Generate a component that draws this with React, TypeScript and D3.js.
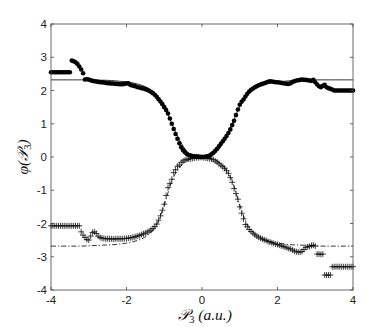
import React from "react";
import * as d3 from "d3";

// sample positions: P3 from -4 to 4 every 0.05 (161 samples)
const sampleCount = 161;
const sampleStart = -4;
const sampleStep = 0.05;

// phase of the measured field (filled dots)
const phiMeasured = [
  2.55, 2.55, 2.55, 2.55, 2.55, 2.55, 2.55, 2.55, 2.55, 2.55, // -4.00 .. -3.55
  2.55, 2.90, 2.88, 2.85, 2.80, 2.72, 2.63, 2.52, 2.33, 2.34, // -3.50 .. -3.05
  2.33, 2.31, 2.29, 2.28, 2.27, 2.26, 2.25, 2.25, 2.24, 2.23, // -3.00 .. -2.55
  2.22, 2.22, 2.21, 2.21, 2.20, 2.20, 2.19, 2.19, 2.19, 2.20, // -2.50 .. -2.05
  2.21, 2.22, 2.17, 2.15, 2.14, 2.12, 2.10, 2.09, 2.07, 2.06, // -2.00 .. -1.55
  2.04, 2.02, 1.99, 1.96, 1.92, 1.87, 1.81, 1.74, 1.67, 1.59, // -1.50 .. -1.05
  1.50, 1.41, 1.31, 1.16, 1.00, 0.84, 0.69, 0.55, 0.41, 0.29, // -1.00 .. -0.55
  0.20, 0.14, 0.09, 0.06, 0.04, 0.03, 0.02, 0.01, 0.01, 0.00, // -0.50 .. -0.05
  0.00, 0.00, 0.01, 0.02, 0.04, 0.08, 0.13, 0.19, 0.25, 0.32, //  0.00 ..  0.45
  0.40, 0.47, 0.55, 0.63, 0.72, 0.83, 0.96, 1.09, 1.26, 1.43, //  0.50 ..  0.95
  1.57, 1.66, 1.73, 1.82, 1.90, 1.97, 2.02, 2.06, 2.10, 2.13, //  1.00 ..  1.45
  2.16, 2.18, 2.20, 2.22, 2.24, 2.26, 2.28, 2.27, 2.26, 2.25, //  1.50 ..  1.95
  2.25, 2.24, 2.23, 2.22, 2.21, 2.20, 2.20, 2.22, 2.26, 2.28, //  2.00 ..  2.45
  2.30, 2.31, 2.32, 2.33, 2.32, 2.32, 2.31, 2.30, 2.29, 2.32, //  2.50 ..  2.95
  2.25, 2.18, 2.13, 2.10, 2.14, 2.17, 2.10, 2.07, 2.05, 2.03, //  3.00 ..  3.45
  2.00, 2.00, 2.00, 2.00, 2.00, 2.00, 2.00, 2.00, 2.00, 2.00, //  3.50 ..  3.95
  2.00, //  4.00
];

// phase of the second field (plus markers)
const phiSecond = [
  -2.07, -2.07, -2.07, -2.07, -2.07, -2.07, -2.07, -2.07, -2.07, -2.07,
  -2.07, -2.07, -2.07, -2.07, -2.07, -2.07, -2.25, -2.35, -2.42, -2.48,
  -2.50, -2.38, -2.27, -2.25, -2.30, -2.38, -2.42, -2.44, -2.45, -2.46,
  -2.46, -2.46, -2.46, -2.47, -2.46, -2.46, -2.46, -2.46, -2.46, -2.45,
  -2.45, -2.44, -2.43, -2.42, -2.41, -2.39, -2.37, -2.36, -2.33, -2.31,
  -2.29, -2.26, -2.23, -2.20, -2.15, -2.09, -2.02, -1.90, -1.77, -1.60,
  -1.42, -1.16, -0.92, -0.80, -0.67, -0.47, -0.38, -0.28, -0.24, -0.16,
  -0.12, -0.09, -0.07, -0.06, -0.05, -0.04, -0.03, -0.02, -0.02, -0.01,
  -0.01, -0.02, -0.03, -0.04, -0.05, -0.06, -0.08, -0.12, -0.15, -0.20,
  -0.25, -0.29, -0.34, -0.41, -0.49, -0.62, -0.76, -0.95, -1.10, -1.27,
  -1.50, -1.69, -1.86, -2.03, -2.10, -2.18, -2.24, -2.29, -2.34, -2.38,
  -2.41, -2.44, -2.47, -2.49, -2.51, -2.54, -2.56, -2.58, -2.60, -2.62,
  -2.63, -2.65, -2.67, -2.69, -2.71, -2.73, -2.75, -2.77, -2.80, -2.83,
  -2.85, -2.86, -2.86, -2.84, -2.78, -2.72, -2.70, -2.69, -2.66, -2.65,
  -2.68, -2.92, -2.92, -2.93, -2.92, -3.55, -3.55, -3.55, -3.55, -3.30,
  -3.30, -3.30, -3.30, -3.30, -3.30, -3.30, -3.30, -3.30, -3.30, -3.30,
  -3.30,
];

// fitted curves, sampled every 0.2 from -4 to 4
const fitCount = 41;
const fitStep = 0.2;
const fitUpper = [
  2.32, 2.32, 2.32, 2.32, 2.32, 2.32, 2.31, 2.31, 2.30, 2.28,
  2.26, 2.22, 2.16, 2.05, 1.85, 1.52, 1.00, 0.52, 0.17, 0.02,
  0.00,
  0.02, 0.17, 0.52, 1.00, 1.52, 1.85, 2.05, 2.16, 2.22, 2.26,
  2.28, 2.30, 2.31, 2.31, 2.32, 2.32, 2.32, 2.32, 2.32, 2.32,
];
const fitLower = [
  -2.68, -2.68, -2.68, -2.68, -2.68, -2.67, -2.66, -2.65, -2.64, -2.62,
  -2.59, -2.54, -2.46, -2.32, -2.03, -1.45, -0.72, -0.33, -0.12, -0.03,
  0.00,
  -0.03, -0.12, -0.33, -0.72, -1.45, -2.03, -2.32, -2.46, -2.54, -2.59,
  -2.62, -2.64, -2.65, -2.66, -2.67, -2.68, -2.68, -2.68, -2.68, -2.68,
];

const xTicks = [-4, -2, 0, 2, 4];
const yTicks = [-4, -3, -2, -1, 0, 1, 2, 3, 4];

const W = 390;
const H = 327;
const left = 51, right = 353, top = 24, bottom = 290;

export default function App() {
  const x = d3.scaleLinear().domain([-4, 4]).range([left, right]);
  const y = d3.scaleLinear().domain([-4, 4]).range([bottom, top]);

  const xs = d3.range(sampleCount).map((i) => sampleStart + i * sampleStep);
  const fx = d3.range(fitCount).map((i) => sampleStart + i * fitStep);

  const line = d3
    .line<[number, number]>()
    .x((d) => x(d[0]))
    .y((d) => y(d[1]))
    .curve(d3.curveMonotoneX);

  const upperPath = line(fx.map((v, i) => [v, fitUpper[i]]) as [number, number][]) || "";
  const lowerPath = line(fx.map((v, i) => [v, fitLower[i]]) as [number, number][]) || "";

  const axisColor = "#444";
  const tickLen = 3;
  const tickFont = "'Liberation Sans', Arial, Helvetica, sans-serif";
  const mathFont = "'Liberation Serif', 'DejaVu Serif', serif";
  const ps = 3;

  return (
    <svg
      width={W}
      height={H}
      style={{ position: "absolute", left: 0, top: 0, background: "#fff" }}
    >
      <rect x={0} y={0} width={W} height={H} fill="#fff" />
      {/* plus markers */}
      <g stroke="#111" strokeWidth={0.8} fill="none">
        {xs.map((v, i) => {
          const cx = x(v);
          const cy = y(phiSecond[i]);
          return (
            <path
              key={"p" + i}
              d={`M${cx - ps},${cy}H${cx + ps}M${cx},${cy - ps}V${cy + ps}`}
            />
          );
        })}
      </g>
      <path
        d={lowerPath}
        fill="none"
        stroke="#000"
        strokeWidth={0.8}
        strokeDasharray="5,2,1.2,2"
      />
      <path d={upperPath} fill="none" stroke="#000" strokeWidth={0.8} />
      {/* filled dots */}
      <g fill="#000">
        {xs.map((v, i) => (
          <circle key={"d" + i} cx={x(v)} cy={y(phiMeasured[i])} r={2.3} />
        ))}
      </g>
      {/* axes box */}
      <rect
        x={left}
        y={top}
        width={right - left}
        height={bottom - top}
        fill="none"
        stroke={axisColor}
        strokeWidth={0.8}
      />
      {xTicks.map((t) => (
        <g key={"xt" + t}>
          <line x1={x(t)} x2={x(t)} y1={bottom} y2={bottom - tickLen} stroke={axisColor} strokeWidth={0.8} />
          <line x1={x(t)} x2={x(t)} y1={top} y2={top + tickLen} stroke={axisColor} strokeWidth={0.8} />
          <text
            x={x(t)}
            y={bottom + 14}
            textAnchor="middle"
            fontFamily={tickFont}
            fontSize={11.5}
            fill="#222"
          >
            {t < 0 ? "-" + Math.abs(t) : String(t)}
          </text>
        </g>
      ))}
      {yTicks.map((t) => (
        <g key={"yt" + t}>
          <line x1={left} x2={left + tickLen} y1={y(t)} y2={y(t)} stroke={axisColor} strokeWidth={0.8} />
          <line x1={right} x2={right - tickLen} y1={y(t)} y2={y(t)} stroke={axisColor} strokeWidth={0.8} />
          <text
            x={left - 4}
            y={y(t)}
            dy="0.36em"
            textAnchor="end"
            fontFamily={tickFont}
            fontSize={11.5}
            fill="#222"
          >
            {t < 0 ? "-" + Math.abs(t) : String(t)}
          </text>
        </g>
      ))}
      {/* x label */}
      <text
        x={205}
        y={320}
        textAnchor="middle"
        fontFamily={mathFont}
        fontStyle="italic"
        fontSize={15.5}
        fill="#111"
      >
        <tspan>{"𝒫"}</tspan>
        <tspan fontSize={10.5} dy={3} fontStyle="normal">3</tspan>
        <tspan dy={-3}>{" (a.u.)"}</tspan>
      </text>
      {/* y label */}
      <text
        transform="translate(28,157) rotate(-90)"
        textAnchor="middle"
        fontFamily={mathFont}
        fontStyle="italic"
        fontSize={15.5}
        fill="#111"
      >
        <tspan>{"φ("}</tspan>
        <tspan>{"𝒫"}</tspan>
        <tspan fontSize={10.5} dy={3} fontStyle="normal">3</tspan>
        <tspan dy={-3}>{")"}</tspan>
      </text>
    </svg>
  );
}
